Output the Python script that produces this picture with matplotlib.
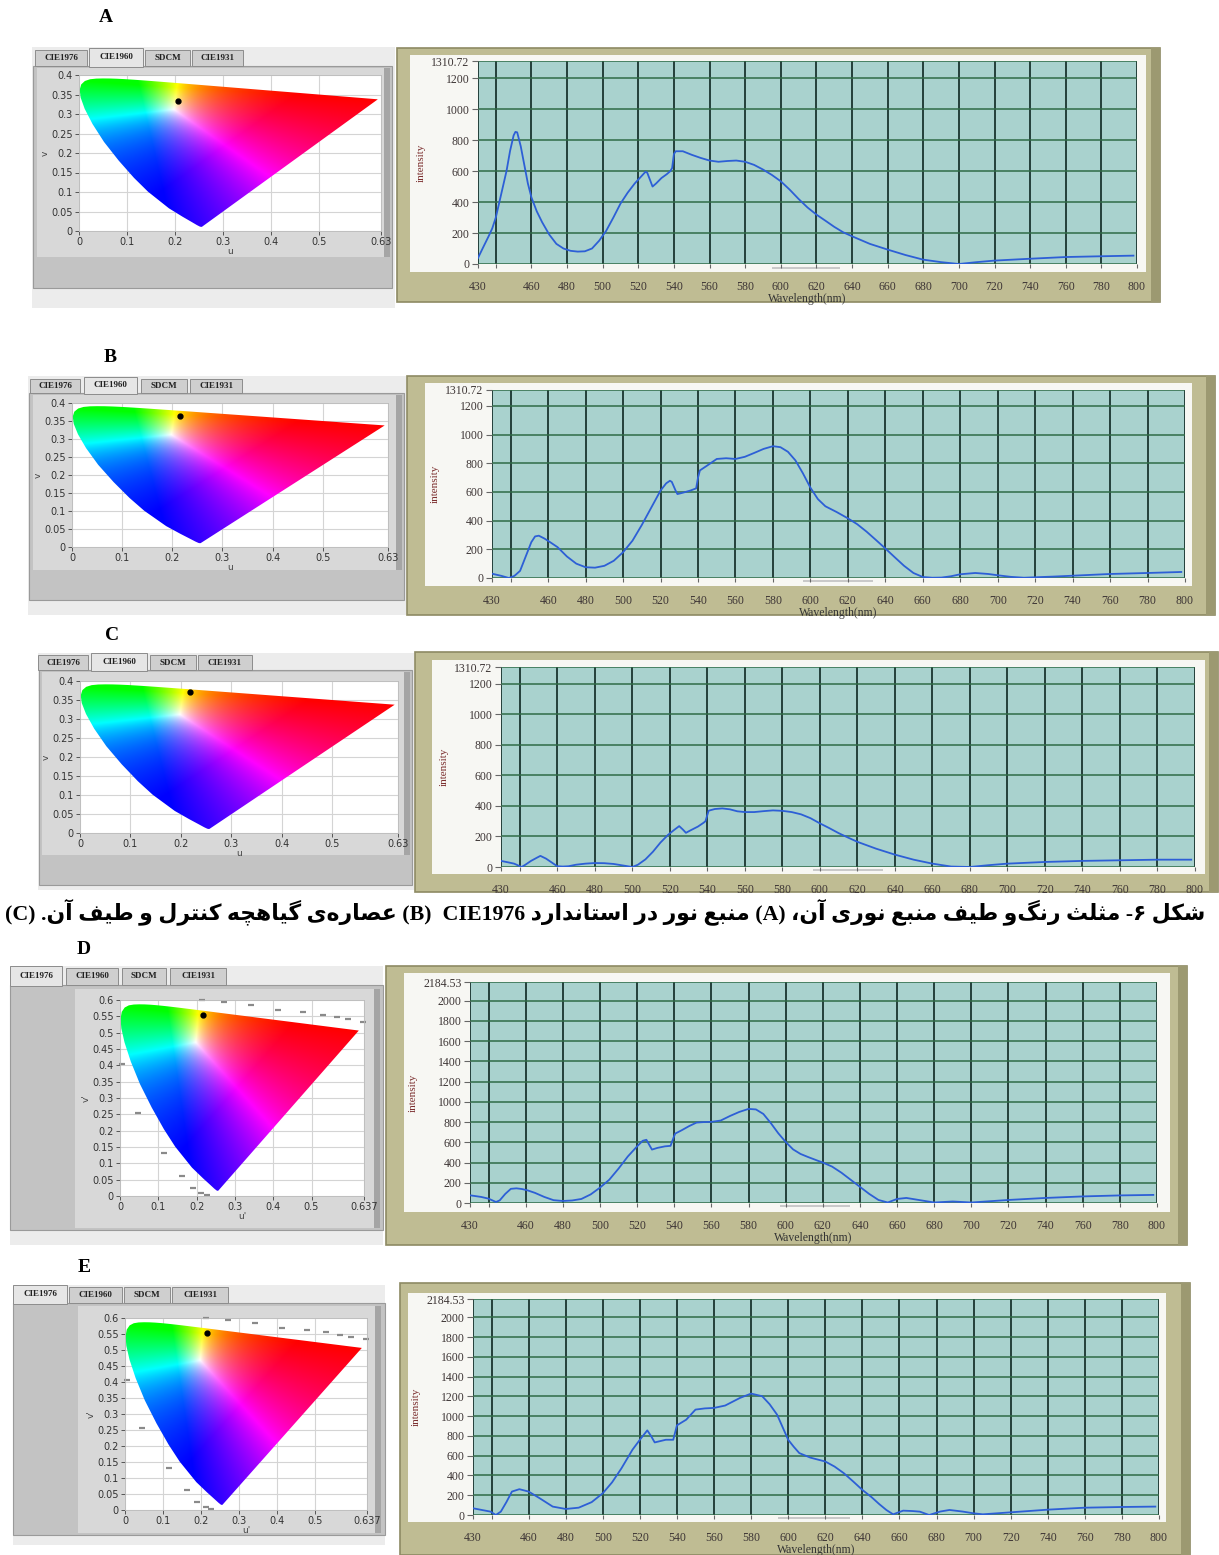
import numpy as np
import matplotlib
matplotlib.use('Agg')
import matplotlib.pyplot as plt
from matplotlib.patches import Rectangle, Polygon

W, H = 1219, 1555
fig = plt.figure(figsize=(W / 100, H / 100), dpi=100)

# ---------------- data ----------------
# CIE 1931 spectral locus (x, y)
locus_x = [0.1741, 0.1738, 0.1733, 0.1726, 0.1714, 0.1689, 0.1644, 0.1566, 0.1440, 0.1241, 0.1096,
           0.0913, 0.0687, 0.0454, 0.0235, 0.0082, 0.0039, 0.0139, 0.0389, 0.0743, 0.1142, 0.1547,
           0.1929, 0.2296, 0.2658, 0.3016, 0.3373, 0.3731, 0.4441, 0.5125, 0.5752, 0.6270, 0.6658,
           0.6915, 0.7079, 0.7190, 0.7260, 0.7300, 0.7334, 0.7347]
locus_y = [0.0050, 0.0049, 0.0048, 0.0048, 0.0051, 0.0069, 0.0109, 0.0177, 0.0297, 0.0578, 0.0868,
           0.1327, 0.2007, 0.2950, 0.4127, 0.5384, 0.6548, 0.7502, 0.8120, 0.8338, 0.8262, 0.8059,
           0.7816, 0.7543, 0.7243, 0.6923, 0.6589, 0.6245, 0.5547, 0.4866, 0.4242, 0.3725, 0.3340,
           0.3083, 0.2920, 0.2809, 0.2740, 0.2700, 0.2666, 0.2653]

# chromaticity points of each sample
dot_a = (0.206, 0.333)
dot_b = (0.215, 0.365)
dot_c = (0.218, 0.371)
dot_d = (0.217, 0.554)
dot_e = (0.216, 0.553)

# small grey labels on the CIE1976 diagrams
marks_u = [0.213, 0.272, 0.342, 0.412, 0.478, 0.530, 0.567, 0.595, 0.634, 0.004, 0.046, 0.115, 0.162, 0.190, 0.212, 0.227]
marks_v = [0.600, 0.595, 0.585, 0.570, 0.562, 0.555, 0.548, 0.542, 0.533, 0.405, 0.255, 0.132, 0.061, 0.024, 0.009, 0.002]

# spectra (wavelength nm, intensity)
a_wl = [430, 433, 436, 438, 440, 442, 444, 446, 448, 450, 451, 452, 454, 456, 458, 460, 463, 466, 470, 474,
        478, 482, 486, 490, 494, 498, 502, 506, 510, 514, 518, 522, 524, 525, 527, 528, 530, 533, 536, 538,
        539, 540, 541, 545, 550, 555, 560, 565, 570, 575, 580, 585, 590, 595, 600, 605, 610, 615, 620, 625,
        630, 635, 640, 650, 660, 670, 680, 690, 700, 710, 720, 740, 760, 780, 798]
a_int = [39, 110, 180, 230, 300, 400, 500, 600, 730, 830, 853, 850, 760, 640, 520, 430, 340, 270, 190, 130,
         100, 85, 80, 82, 100, 150, 215, 300, 390, 460, 520, 570, 595, 590, 530, 500, 520, 555, 580, 600,
         620, 710, 728, 728, 705, 685, 668, 660, 665, 668, 660, 640, 610, 575, 534, 480, 420, 365, 319, 280,
         240, 205, 179, 130, 93, 58, 28, 12, 0, 12, 22, 34, 45, 50, 54]

b_wl = [430, 435, 439, 442, 445, 448, 451, 453, 455, 458, 461, 465, 470, 475, 480, 485, 490, 495, 500, 505,
        510, 515, 520, 523, 525, 526, 528, 529, 532, 536, 539, 540, 541, 545, 550, 555, 560, 565, 570, 575,
        580, 584, 588, 592, 596, 600, 604, 608, 614, 620, 625, 630, 635, 640, 645, 650, 655, 660, 665, 670,
        675, 680, 688, 695, 700, 707, 714, 720, 730, 740, 760, 780, 798]
b_int = [30, 15, 0, 15, 50, 150, 250, 290, 295, 275, 250, 215, 150, 100, 75, 72, 85, 120, 180, 260,
         370, 490, 610, 660, 678, 670, 610, 585, 595, 610, 625, 700, 750, 785, 830, 835, 830, 845, 872, 900,
         919, 912, 880, 820, 730, 630, 550, 500, 460, 416, 375, 323, 265, 206, 145, 85, 35, 7, 2, 3,
         12, 26, 35, 28, 19, 8, 2, 5, 10, 16, 28, 35, 42]

c_wl = [430, 434, 437, 441, 443, 446, 449, 451, 454, 457, 460, 463, 466, 470, 475, 480, 485, 490, 495, 500,
        503, 507, 511, 515, 519, 522, 525, 527, 528.6, 531, 535, 538, 539, 540.7, 544, 548, 552, 556, 560,
        565, 570, 575, 580, 585, 590, 595, 600, 605, 610, 615, 620, 630, 640, 650, 660, 670, 680, 690, 700,
        720, 740, 760, 780, 798]
c_int = [40, 30, 22, 0, 15, 40, 60, 73, 55, 30, 5, 3, 5, 15, 22, 26, 25, 20, 10, 0,
         15, 50, 100, 160, 210, 240, 268, 245, 224, 240, 265, 290, 300, 369, 380, 384, 378, 365, 360,
         360, 366, 371, 368, 360, 345, 320, 286, 255, 222, 193, 165, 120, 81, 48, 22, 3, 0, 12, 22,
         33, 40, 44, 48, 48]

d_wl = [430, 436, 440, 444, 446, 449, 452, 455, 458, 461, 465, 470, 475, 480, 485, 490, 495, 500, 505, 510,
        515, 520, 523, 525, 527, 528, 531, 535, 538, 539.5, 540.5, 544, 548, 552, 556, 560, 565, 570, 575,
        580, 584, 588, 592, 596, 600, 604, 608, 612, 617, 620, 625, 630, 635, 640, 645, 650, 655, 660, 665,
        670, 680, 690, 700, 720, 740, 760, 780, 798]
d_int = [76, 60, 43, 10, 26, 90, 140, 145, 138, 125, 100, 60, 28, 20, 25, 40, 85, 152, 230, 340,
         460, 560, 615, 625, 560, 528, 545, 560, 565, 640, 686, 719, 760, 795, 800, 802, 815, 860, 900,
         930, 925, 880, 790, 690, 604, 530, 485, 455, 420, 400, 360, 300, 230, 160, 90, 30, 5, 40, 50,
         35, 5, 15, 5, 30, 50, 65, 75, 80]

e_wl = [430, 435, 439.5, 442.3, 445, 448, 451, 455, 460, 466, 473, 480, 487, 494, 500, 505, 510, 516, 520,
        524, 526, 528, 534, 538, 540, 545, 550, 555, 560, 566, 574, 580, 586, 590, 594, 600, 603, 606, 612,
        620, 625, 630, 635, 640, 645, 649, 653, 656.6, 662, 667, 671, 676, 682, 687, 694, 700, 705, 720,
        740, 760, 780, 798]
e_int = [68, 50, 34, 0, 34, 130, 237, 261, 237, 169, 85, 61, 74, 130, 220, 330, 470, 660, 761,
         856, 800, 734, 761, 761, 907, 964, 1066, 1078, 1083, 1107, 1184, 1228, 1201, 1120, 1015, 761, 690,
         626, 580, 541, 490, 423, 340, 254, 180, 112, 50, 7, 44, 40, 34, 0, 35, 51, 35, 17, 7, 27,
         54, 74, 81, 85]

tab_names = ['CIE1976', 'CIE1960', 'SDCM', 'CIE1931']
caption = 'شکل ۶- مثلث رنگ\u200cو طیف منبع نوری آن، (A) منبع نور در استاندارد CIE1976  (B) عصاره\u200cی گیاهچه کنترل و طیف آن. (C)'


# ---------------- helpers ----------------
def frac(x0, y0, x1, y1):
    return [x0 / W, 1 - y1 / H, (x1 - x0) / W, (y1 - y0) / H]


def rect(x0, y0, x1, y1, fc, ec='none', lw=0, z=-5):
    fig.add_artist(Rectangle((x0 / W, 1 - y1 / H), (x1 - x0) / W, (y1 - y0) / H,
                             transform=fig.transFigure, facecolor=fc, edgecolor=ec,
                             linewidth=lw, zorder=z))


def chroma_rgb(U, V, cie1976):
    if cie1976:
        d = 6 * U - 16 * V + 12
        x, y = 9 * U / d, 4 * V / d
    else:
        d = 2 * U - 8 * V + 4
        x, y = 3 * U / d, 2 * V / d
    y = np.maximum(y, 1e-4)
    X, Y, Z = x / y, np.ones_like(x), (1 - x - y) / y
    r = 3.2406 * X - 1.5372 * Y - 0.4986 * Z
    g = -0.9689 * X + 1.8758 * Y + 0.0415 * Z
    b = 0.0557 * X - 0.2040 * Y + 1.0570 * Z
    rgb = np.clip(np.dstack([r, g, b]), 0, None)
    rgb = rgb / np.maximum(rgb.max(axis=2, keepdims=True), 1e-9)
    return rgb ** 0.9


def chroma(outer, panel, chart, plot, tab_y, tabs, active, umax, vmax, vstep, xt, xtl, dot, cie1976,
           marks=False):
    rect(*outer, '#ececec')
    rect(*panel, '#c3c3c3', ec='#9a9a9a', lw=0.8)
    rect(*chart, '#d8d8d8')
    rect(chart[2] - 6, chart[1], chart[2], chart[3], '#a5a5a5')
    for i, (tx0, tx1) in enumerate(tabs):
        top = tab_y[0] - (2 if i == active else 0)
        rect(tx0, top, tx1, tab_y[1] + (1 if i == active else 0),
             '#e6e6e6' if i == active else '#cfcfcf', ec='#8c8c8c', lw=0.7, z=-4)
        fig.text((tx0 + tx1) / 2 / W, 1 - (top + tab_y[1]) / 2 / H, tab_names[i], ha='center', va='center',
                 fontsize=6.5, fontweight='bold', family='Liberation Serif', color='#222222')

    ax = fig.add_axes(frac(*plot))
    ax.set_facecolor('white')
    xs, ys = np.array(locus_x), np.array(locus_y)
    den = -2 * xs + 12 * ys + 3
    lu = 4 * xs / den
    lv = (9 if cie1976 else 6) * ys / den
    poly = Polygon(np.column_stack([lu, lv]), closed=True, facecolor='none', edgecolor='none')
    ax.add_patch(poly)
    U, V = np.meshgrid(np.linspace(0, umax, 500), np.linspace(0, vmax, 400))
    im = ax.imshow(chroma_rgb(U, V, cie1976), origin='lower', extent=[0, umax, 0, vmax],
                   aspect='auto', interpolation='bilinear', zorder=2)
    im.set_clip_path(poly)
    ax.plot([dot[0]], [dot[1]], 'o', color='black', ms=3.5, zorder=5)
    if marks:
        ax.plot(marks_u, marks_v, '_', color='#8a8a8a', ms=5, mew=1.6, zorder=1, clip_on=False)
    ax.set_xlim(0, umax)
    ax.set_ylim(0, vmax)
    ax.set_xticks(xt)
    ax.set_xticklabels(xtl)
    yt = np.arange(0, vmax + 1e-9, vstep)
    ax.set_yticks(yt)
    ax.set_yticklabels(['%g' % t for t in yt])
    ax.grid(color='#d4d4d4', lw=0.8, zorder=0)
    ax.set_axisbelow(True)
    ax.tick_params(length=3, width=0.7, color='#555555', labelsize=7, labelcolor='#333333', pad=1.5)
    for s in ax.spines.values():
        s.set_color('#bbbbbb')
        s.set_linewidth(0.6)
    ax.set_xlabel("u'" if cie1976 else 'u', fontsize=6.5, color='#444444', labelpad=0)
    ax.set_ylabel("v'" if cie1976 else 'v', fontsize=6.5, color='#444444', labelpad=1)
    return ax


def spectrum(outer, inner, plot, wl, inten, ytop, bar, xlabel=True):
    rect(*outer, '#bfbc93', ec='#8d8a63', lw=1.2)
    rect(outer[2] - 9, outer[1], outer[2], outer[3], '#9c9971')
    rect(*inner, '#f7f7f3')
    rect(*bar, '#c9c9c9', z=-3)
    ax = fig.add_axes(frac(*plot))
    ax.set_facecolor('#a9d2ce')
    ax.plot(wl, inten, color='#2d5fd6', lw=1.3, zorder=3)
    ax.set_xlim(430, 800)
    ax.set_ylim(0, ytop)
    xt = [430, 440] + list(range(460, 801, 20))
    ax.set_xticks(xt)
    ax.set_xticklabels(['' if t == 440 else str(t) for t in xt])
    yt = list(range(0, int(ytop), 200)) + [ytop]
    ax.set_yticks(yt)
    ax.set_yticklabels(['%g' % t for t in yt])
    ax.grid(axis='x', color='#24403a', lw=1.4)
    ax.grid(axis='y', color='#2f6b47', lw=1.1)
    ax.tick_params(axis='x', length=3, width=0.8, color='#666666', pad=9, labelsize=8.5,
                   labelcolor='#3d3535')
    ax.tick_params(axis='y', length=4, width=0.8, color='#666666', pad=2, labelsize=8.5,
                   labelcolor='#3d3535')
    for lab in ax.get_xticklabels() + ax.get_yticklabels():
        lab.set_family('Liberation Serif')
    for s in ax.spines.values():
        s.set_visible(False)
    if xlabel:
        ax.set_xlabel('Wavelength(nm)', family='Liberation Serif', fontsize=8.5, color='#333333', labelpad=0)
    ax.set_ylabel('intensity', family='Liberation Serif', fontsize=8, color='#7a2c2c', labelpad=4)
    return ax


# Arabic / Persian shaping (presentation forms), then visual order
FORMS = {
    '\u0627': ('\uFE8D', '\uFE8E', None, None), '\u0622': ('\uFE81', '\uFE82', None, None),
    '\u0628': ('\uFE8F', '\uFE90', '\uFE91', '\uFE92'), '\u067E': ('\uFB56', '\uFB57', '\uFB58', '\uFB59'),
    '\u062A': ('\uFE95', '\uFE96', '\uFE97', '\uFE98'), '\u062B': ('\uFE99', '\uFE9A', '\uFE9B', '\uFE9C'),
    '\u062C': ('\uFE9D', '\uFE9E', '\uFE9F', '\uFEA0'), '\u0686': ('\uFB7A', '\uFB7B', '\uFB7C', '\uFB7D'),
    '\u062D': ('\uFEA1', '\uFEA2', '\uFEA3', '\uFEA4'), '\u062E': ('\uFEA5', '\uFEA6', '\uFEA7', '\uFEA8'),
    '\u062F': ('\uFEA9', '\uFEAA', None, None), '\u0630': ('\uFEAB', '\uFEAC', None, None),
    '\u0631': ('\uFEAD', '\uFEAE', None, None), '\u0632': ('\uFEAF', '\uFEB0', None, None),
    '\u0698': ('\uFB8A', '\uFB8B', None, None),
    '\u0633': ('\uFEB1', '\uFEB2', '\uFEB3', '\uFEB4'), '\u0634': ('\uFEB5', '\uFEB6', '\uFEB7', '\uFEB8'),
    '\u0635': ('\uFEB9', '\uFEBA', '\uFEBB', '\uFEBC'), '\u0636': ('\uFEBD', '\uFEBE', '\uFEBF', '\uFEC0'),
    '\u0637': ('\uFEC1', '\uFEC2', '\uFEC3', '\uFEC4'), '\u0638': ('\uFEC5', '\uFEC6', '\uFEC7', '\uFEC8'),
    '\u0639': ('\uFEC9', '\uFECA', '\uFECB', '\uFECC'), '\u063A': ('\uFECD', '\uFECE', '\uFECF', '\uFED0'),
    '\u0641': ('\uFED1', '\uFED2', '\uFED3', '\uFED4'), '\u0642': ('\uFED5', '\uFED6', '\uFED7', '\uFED8'),
    '\u06A9': ('\uFB8E', '\uFB8F', '\uFB90', '\uFB91'), '\u06AF': ('\uFB92', '\uFB93', '\uFB94', '\uFB95'),
    '\u0644': ('\uFEDD', '\uFEDE', '\uFEDF', '\uFEE0'), '\u0645': ('\uFEE1', '\uFEE2', '\uFEE3', '\uFEE4'),
    '\u0646': ('\uFEE5', '\uFEE6', '\uFEE7', '\uFEE8'), '\u0648': ('\uFEED', '\uFEEE', None, None),
    '\u0647': ('\uFEE9', '\uFEEA', '\uFEEB', '\uFEEC'), '\u06CC': ('\uFBFC', '\uFBFD', '\uFBFE', '\uFBFF'),
}


def shape(word):
    out = []
    for i, ch in enumerate(word):
        f = FORMS.get(ch)
        if f is None:
            if ch != '\u200c':
                out.append(ch)
            continue
        prev = word[i - 1] if i > 0 else ''
        nxt = word[i + 1] if i + 1 < len(word) else ''
        jp = prev in FORMS and FORMS[prev][2] is not None
        jn = f[2] is not None and nxt in FORMS
        out.append(f[3] if jp and jn else f[1] if jp else f[2] if jn else f[0])
    return ''.join(out)


def visual(text):
    res = []
    for tok in reversed(text.split(' ')):
        if any('\u0600' <= c <= '\u06FF' for c in tok):
            res.append(shape(tok)[::-1])
        else:
            res.append(tok)
    return ' '.join(res)


# ---------------- panels ----------------
lab_kw = dict(fontsize=14, fontweight='bold', family='Liberation Serif', ha='center', va='center')
fig.text(106 / W, 1 - 17 / H, 'A', **lab_kw)
fig.text(110 / W, 1 - 357 / H, 'B', **lab_kw)
fig.text(112 / W, 1 - 635 / H, 'C', **lab_kw)
fig.text(84 / W, 1 - 950 / H, 'D', **lab_kw)
fig.text(84 / W, 1 - 1267 / H, 'E', **lab_kw)

u60 = [0, 0.1, 0.2, 0.3, 0.4, 0.5, 0.63]
u60l = ['0', '0.1', '0.2', '0.3', '0.4', '0.5', '0.63']
u76 = [0, 0.1, 0.2, 0.3, 0.4, 0.5, 0.637]
u76l = ['0', '0.1', '0.2', '0.3', '0.4', '0.5', '0.637']

chroma((32, 47, 395, 308), (33, 66, 392, 288), (37, 68, 390, 257), (79, 75, 381, 231), (50, 66),
       [(35, 87), (89, 143), (145, 190), (192, 243)], 1, 0.63, 0.4, 0.05, u60, u60l, dot_a, False)
spectrum((397, 48, 1160, 302), (410, 55, 1146, 272), (478, 61, 1137, 264), a_wl, a_int, 1310.72,
         (772, 267, 840, 269))

chroma((28, 376, 406, 615), (29, 393, 404, 600), (33, 395, 402, 570), (72, 403, 388, 547), (379, 393),
       [(30, 80), (84, 137), (141, 187), (190, 242)], 1, 0.63, 0.4, 0.05, u60, u60l, dot_b, False)
spectrum((407, 376, 1215, 615), (425, 383, 1192, 586), (492, 390, 1185, 578), b_wl, b_int, 1310.72,
         (803, 580, 873, 582))

chroma((38, 653, 414, 890), (39, 670, 412, 885), (42, 672, 410, 855), (80, 681, 398, 833), (655, 670),
       [(38, 88), (91, 147), (150, 196), (198, 252)], 1, 0.63, 0.4, 0.05, u60, u60l, dot_c, False)
spectrum((415, 652, 1218, 892), (432, 660, 1205, 874), (501, 667, 1195, 867), c_wl, c_int, 1310.72,
         (813, 869, 883, 871), xlabel=False)

chroma((10, 966, 383, 1245), (10, 985, 383, 1230), (75, 989, 380, 1228), (120, 1000, 364, 1196), (968, 985),
       [(10, 62), (66, 118), (122, 166), (170, 226)], 0, 0.637, 0.6, 0.05, u76, u76l, dot_d, True, True)
spectrum((386, 966, 1187, 1245), (404, 973, 1170, 1212), (470, 982, 1157, 1203), d_wl, d_int, 2184.53,
         (780, 1205, 850, 1207))

chroma((13, 1285, 385, 1545), (13, 1303, 385, 1535), (78, 1306, 381, 1533), (125, 1318, 367, 1510),
       (1287, 1303), [(13, 67), (69, 122), (124, 170), (172, 228)], 0, 0.637, 0.6, 0.05, u76, u76l, dot_e,
       True, True)
spectrum((400, 1283, 1190, 1555), (408, 1293, 1166, 1522), (473, 1299, 1159, 1515), e_wl, e_int, 2184.53,
         (778, 1517, 850, 1519))

# caption
cap = fig.text(1205 / W, 1 - 912 / H, visual(caption), ha='right', va='center', fontsize=13,
               fontweight='bold', family=['Liberation Serif', 'DejaVu Sans'])
fig.canvas.draw()
bb = cap.get_window_extent()
cap.set_fontsize(13 * 1200 / bb.width)

fig.savefig('out.png', dpi=100)
